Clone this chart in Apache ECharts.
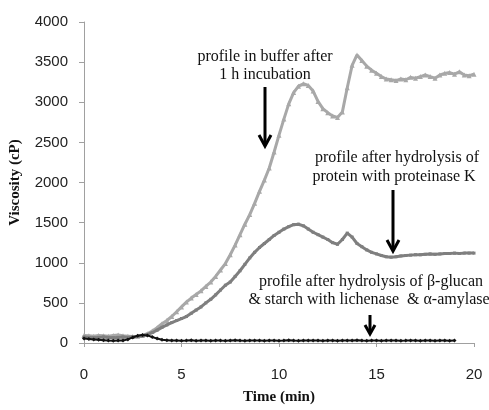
<!DOCTYPE html>
<html>
<head>
<meta charset="utf-8">
<script src="https://cdn.jsdelivr.net/npm/echarts@6/dist/echarts.min.js"></script>
<style>html,body{margin:0;padding:0;background:#fff;}#c{width:489px;height:410px;}</style>
</head>
<body>
<div id="c"></div>
<script>
var time = [0,0.25,0.5,0.75,1,1.25,1.5,1.75,2,2.25,2.5,2.75,3,3.25,3.5,3.75,4,4.25,4.5,4.75,5,5.25,5.5,5.75,6,6.25,6.5,6.75,7,7.25,7.5,7.75,8,8.25,8.5,8.75,9,9.25,9.5,9.75,10,10.25,10.5,10.75,11,11.25,11.5,11.75,12,12.25,12.5,12.75,13,13.25,13.5,13.75,14,14.25,14.5,14.75,15,15.25,15.5,15.75,16,16.25,16.5,16.75,17,17.25,17.5,17.75,18,18.25,18.5,18.75,19,19.25,19.5,19.75,20];

var bufferProfile = [95,90,85,95,90,85,95,100,90,85,80,85,95,115,150,190,240,280,330,390,450,510,560,605,650,705,760,830,910,990,1100,1220,1350,1480,1600,1740,1890,2030,2180,2380,2590,2790,2980,3120,3200,3230,3210,3140,3010,2920,2870,2830,2810,2880,3180,3460,3590,3520,3450,3400,3360,3320,3290,3280,3270,3290,3280,3310,3300,3320,3340,3320,3300,3340,3360,3370,3350,3380,3340,3330,3350];

var proteinaseProfile = [75,70,65,70,75,70,65,70,75,70,75,80,90,105,130,160,195,225,255,280,305,330,370,410,450,500,545,600,660,720,760,830,900,980,1060,1130,1190,1240,1290,1340,1380,1420,1450,1475,1480,1460,1420,1380,1350,1320,1290,1250,1230,1290,1370,1320,1240,1200,1160,1130,1110,1090,1075,1070,1075,1085,1090,1095,1100,1100,1105,1110,1105,1110,1115,1115,1120,1115,1120,1120,1120];

var enzymeProfile = [55,50,45,40,35,30,28,30,32,45,70,90,100,95,75,55,40,35,30,32,28,30,33,29,31,30,28,32,30,29,31,33,30,28,31,30,32,29,30,31,28,30,33,30,29,31,30,32,30,28,31,30,29,32,31,30,33,30,29,31,30,28,32,30,31,29,30,32,30,28,31,30,29,31,30,28,30];

var xTicks = [0,5,10,15,20];
var yTicks = [0,500,1000,1500,2000,2500,3000,3500,4000];

var annotations = [
  ["profile in buffer after", "1 h incubation"],
  ["profile after hydrolysis of", "protein with proteinase K"],
  ["profile after hydrolysis of \u03b2-glucan", "& starch with lichenase  & \u03b1-amylase"]
];

function pairs(vals){ var out=[]; for(var i=0;i<vals.length;i++){ out.push([time[i], vals[i]]); } return out; }

var chart = echarts.init(document.getElementById('c'));
var serif = "'Liberation Serif','Times New Roman',serif";
var sans = "'Liberation Sans',Arial,sans-serif";
function label(s,x,y){ return {type:'text', style:{text:s, x:x, y:y, align:'center', verticalAlign:'middle', font:'16px '+serif, fill:'#111'}}; }
function arrow(x,y1,y2,hw,hh){
  return [
    {type:'line', shape:{x1:x,y1:y1,x2:x,y2:y2-1}, style:{stroke:'#000', lineWidth:3}},
    {type:'polyline', shape:{points:[[x-hw,y2-hh],[x,y2],[x+hw,y2-hh]]}, style:{stroke:'#000', lineWidth:3, fill:null}}
  ];
}
var g = [
  label(annotations[0][0],265,57), label(annotations[0][1],265,75),
  label(annotations[1][0],397,158), label(annotations[1][1],394,177),
  label(annotations[2][0],371,282), label(annotations[2][1],369,300)
];
g = g.concat(arrow(265,87,146,6,11)).concat(arrow(393,190,251,6,11)).concat(arrow(370,315,334,5,9));

chart.setOption({
  animation:false,
  backgroundColor:'#fff',
  grid:{left:82, right:15, top:22, bottom:60, containLabel:false},
  xAxis:{
    type:'value', min:xTicks[0], max:xTicks[xTicks.length-1], interval:5,
    name:'Time (min)', nameLocation:'middle', nameGap:47,
    nameTextStyle:{fontFamily:serif, fontWeight:'bold', fontSize:15, color:'#111'},
    axisLine:{show:true, lineStyle:{color:'#a0a0a0', width:1}},
    axisTick:{show:true, length:4, lineStyle:{color:'#a0a0a0'}},
    axisLabel:{fontFamily:sans, fontSize:15, color:'#222', margin:24},
    splitLine:{show:false}
  },
  yAxis:{
    type:'value', min:yTicks[0], max:yTicks[yTicks.length-1], interval:500,
    name:'Viscosity (cP)', nameLocation:'middle', nameGap:61,
    nameTextStyle:{fontFamily:serif, fontWeight:'bold', fontSize:15, color:'#111'},
    axisLine:{show:true, lineStyle:{color:'#a0a0a0', width:1}},
    axisTick:{show:true, length:5, lineStyle:{color:'#a0a0a0'}},
    axisLabel:{fontFamily:sans, fontSize:15, color:'#222', margin:16, formatter:function(v){return String(v);}},
    splitLine:{show:false}
  },
  series:[
    {name:'buffer', type:'line', data:pairs(bufferProfile), symbol:'triangle', symbolSize:5, showAllSymbol:true,
     itemStyle:{color:'#a8a8a8'}, lineStyle:{color:'#a8a8a8', width:3}, z:2},
    {name:'proteinase', type:'line', data:pairs(proteinaseProfile), symbol:'rect', symbolSize:3, showAllSymbol:true,
     itemStyle:{color:'#7f7f7f'}, lineStyle:{color:'#7f7f7f', width:3}, z:3},
    {name:'enzymes', type:'line', data:pairs(enzymeProfile), symbol:'diamond', symbolSize:4, showAllSymbol:true,
     itemStyle:{color:'#111'}, lineStyle:{color:'#111', width:2}, z:4}
  ],
  graphic:g
});
</script>
</body>
</html>
